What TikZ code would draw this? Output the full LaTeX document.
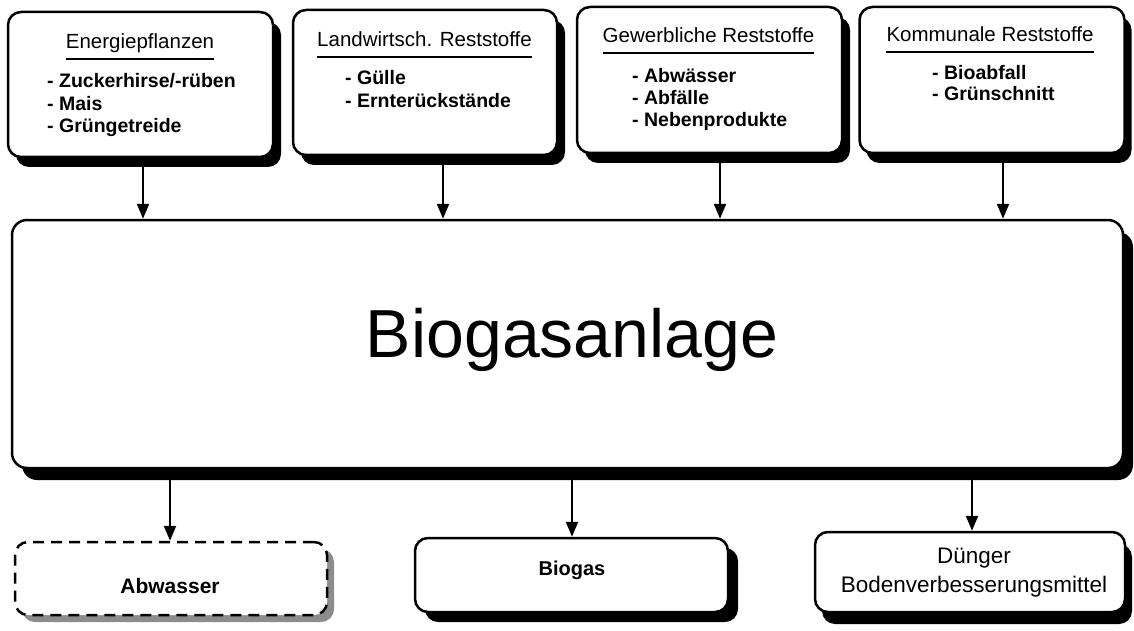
\documentclass[tikz,border=0pt]{standalone}
\usepackage{fontspec}
\setmainfont{Liberation Sans}
\usetikzlibrary{arrows.meta,shadows}
\begin{document}
\begin{tikzpicture}[x=1pt,y=-1pt,
  box/.style={draw=black, line width=2.5pt, fill=white, rounded corners=13pt, inner sep=0pt},
  shad/.style={drop shadow={shadow xshift=#1, shadow yshift=-10pt, fill=black, opacity=1}},
  shad/.default=8pt,
  arr/.style={line width=2.2pt, -{Triangle[length=15pt,width=12pt]}},
  ttl/.style={font=\fontsize{20.5}{24}\selectfont, inner sep=0pt, anchor=base},
  itm/.style={font=\fontsize{19.5}{23}\selectfont\bfseries, inner sep=0pt, anchor=base west},
  uline/.style={line width=2.4pt}]
\useasboundingbox (0,0) rectangle (1134,631);

% top boxes
\node[box, shad, minimum width=265pt, minimum height=145pt] (b1) at (140.5,84.5) {};
\node[box, shad, minimum width=264pt, minimum height=145pt] (b2) at (425,82.5) {};
\node[box, shad, minimum width=265pt, minimum height=146pt] (b3) at (709.5,80) {};
\node[box, shad=7pt, minimum width=265pt, minimum height=146pt] (b4) at (992,80) {};

% big box
\node[box, rounded corners=15pt, drop shadow={shadow xshift=10pt, shadow yshift=-12pt, fill=black, opacity=1},
      minimum width=1111pt, minimum height=248pt] (big) at (567.5,344) {};
\node[font=\fontsize{68}{80}\selectfont, inner sep=0pt, anchor=base] (lbl) at (572,357) {Biogasanlage};

% bottom boxes
\node[box, dashed, dash pattern=on 11pt off 7pt,
      drop shadow={shadow xshift=7pt, shadow yshift=-7pt, fill=black!45, opacity=1},
      minimum width=312pt, minimum height=73pt] (aw) at (171,578.5) {};
\node[box, drop shadow={shadow xshift=10pt, shadow yshift=-10pt, fill=black, opacity=1},
      minimum width=313pt, minimum height=74pt] (bg) at (571.5,575) {};
\node[box, drop shadow={shadow xshift=7pt, shadow yshift=-12pt, fill=black, opacity=1},
      minimum width=310pt, minimum height=80pt] (dg) at (970,572) {};

% titles
\node[ttl] (t1) at (140,49) {Energiepflanzen};
\node[ttl] (t2) at (424.5,47) {Landwirtsch. Reststoffe};
\node[ttl] (t3) at (708.5,43) {Gewerbliche Reststoffe};
\node[ttl] (t4) at (990,42) {Kommunale Reststoffe};
\foreach \t in {t1,t2,t3,t4}
  \draw[uline] ([yshift=-10pt]\t.base west) -- ([yshift=-10pt]\t.base east);

% items
\node[itm] (i11) at (47,88) {- Zuckerhirse/-rüben};
\node[itm] (i12) at (47,110.5) {- Mais};
\node[itm] (i13) at (47,133) {- Grüngetreide};
\node[itm] (i21) at (345,85) {- Gülle};
\node[itm] (i22) at (345,107.5) {- Ernterückstände};
\node[itm] (i31) at (632,83) {- Abwässer};
\node[itm] (i32) at (632,105) {- Abfälle};
\node[itm] (i33) at (632,127) {- Nebenprodukte};
\node[itm] (i41) at (932,80) {- Bioabfall};
\node[itm] (i42) at (932,101) {- Grünschnitt};

% bottom labels
\node[font=\fontsize{21}{25}\selectfont\bfseries, inner sep=0pt, anchor=base] (awl) at (170,593) {Abwasser};
\node[font=\fontsize{20}{24}\selectfont\bfseries, inner sep=0pt, anchor=base] (bgl) at (572,575) {Biogas};
\node[font=\fontsize{22.5}{26}\selectfont, inner sep=0pt, anchor=base] (dgl1) at (974,563) {Dünger};
\node[font=\fontsize{22.5}{26}\selectfont, inner sep=0pt, anchor=base] (dgl2) at (974,592) {Bodenverbesserungsmittel};

% arrows
\draw[arr] (b1.south -| 143,0) -- (big.north -| 143,0);
\draw[arr] (b2.south -| 443,0) -- (big.north -| 443,0);
\draw[arr] (b3.south -| 720,0) -- (big.north -| 720,0);
\draw[arr] (b4.south -| 1003,0) -- (big.north -| 1003,0);
\draw[arr] (big.south -| 170,0) -- (aw.north -| 170,0);
\draw[arr] (big.south -| 572,0) -- (bg.north -| 572,0);
\draw[arr] (big.south -| 972,0) -- (dg.north -| 972,0);
\end{tikzpicture}
\end{document}
